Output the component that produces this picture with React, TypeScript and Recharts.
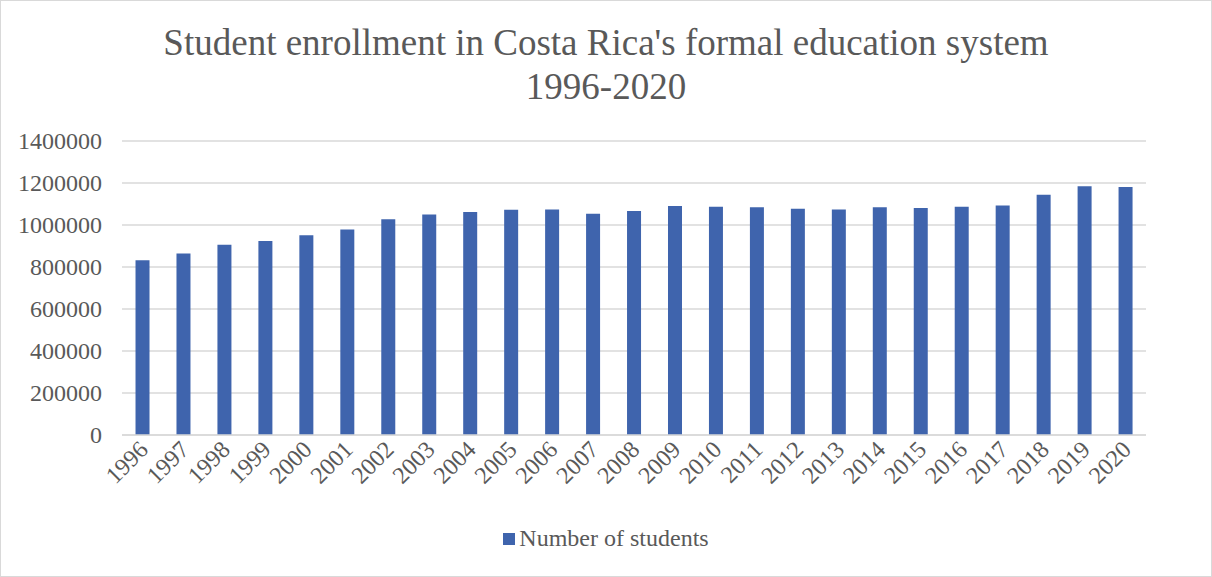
import React from "react";
import { BarChart, Bar, XAxis, YAxis, CartesianGrid, Legend } from "recharts";

const years = ["1996","1997","1998","1999","2000","2001","2002","2003","2004","2005","2006","2007","2008","2009","2010","2011","2012","2013","2014","2015","2016","2017","2018","2019","2020"];
const students = [832000,864000,906000,924000,951000,979000,1027000,1050000,1062000,1073000,1074000,1054000,1067000,1090000,1087000,1085000,1077000,1074000,1084000,1081000,1087000,1093000,1144000,1184000,1181000];
const yTicks = [0,200000,400000,600000,800000,1000000,1200000,1400000];

const data = years.map((y, i) => ({ year: y, value: students[i] }));

const FONT = "'Liberation Serif', 'Times New Roman', serif";
const TXT = "#595959";
const BLUE = "#3F64AD";

const XTick = (props: any) => {
  const { x, y, payload } = props;
  return (
    <text x={x + 7} y={y + 8} transform={`rotate(-45, ${x + 7}, ${y + 8})`} textAnchor="end" fontFamily={FONT} fontSize={24} fill={TXT}>
      {payload.value}
    </text>
  );
};

const YTick = (props: any) => {
  const { y, payload } = props;
  return (
    <text x={102} y={y} dy="0.35em" textAnchor="end" fontFamily={FONT} fontSize={24} fill={TXT}>
      {payload.value}
    </text>
  );
};

const LegendContent = () => (
  <div style={{ display: "flex", justifyContent: "center", alignItems: "center", fontFamily: FONT, fontSize: 24, color: TXT }}>
    <span style={{ display: "inline-block", width: 12, height: 12, background: BLUE, marginRight: 4 }} />
    <span>Number of students</span>
  </div>
);

export default function App() {
  return (
    <div style={{ position: "absolute", left: 0, top: 0, width: 1212, height: 577, background: "#fff" }}>
      <div style={{ position: "absolute", left: 0, top: 0, width: 1210, height: 575, border: "1px solid #d9d9d9" }} />
      <div style={{ position: "absolute", left: 0, top: 21, width: 1212, textAlign: "center", fontFamily: FONT, fontSize: 37, color: TXT, lineHeight: "44px" }}>
        Student enrollment in Costa Rica's formal education system
        <br />
        1996-2020
      </div>
      <div style={{ position: "absolute", left: 0, top: 0 }}>
        <BarChart width={1212} height={577} data={data} margin={{ top: 141, right: 66, left: 0, bottom: 20 }} barCategoryGap="33%">
          <CartesianGrid vertical={false} stroke="#d9d9d9" strokeWidth={1.5} />
          <XAxis dataKey="year" height={82} tick={<XTick />} tickLine={false} axisLine={{ stroke: "#d9d9d9", strokeWidth: 1.5 }} interval={0} />
          <YAxis width={122} domain={[0, 1400000]} ticks={yTicks} tick={<YTick />} tickLine={false} axisLine={false} interval={0} />
          <Legend verticalAlign="bottom" height={40} content={<LegendContent />} wrapperStyle={{ top: 525, left: 0, width: 1212 }} />
          <Bar dataKey="value" name="Number of students" fill={BLUE} isAnimationActive={false} />
        </BarChart>
      </div>
    </div>
  );
}
